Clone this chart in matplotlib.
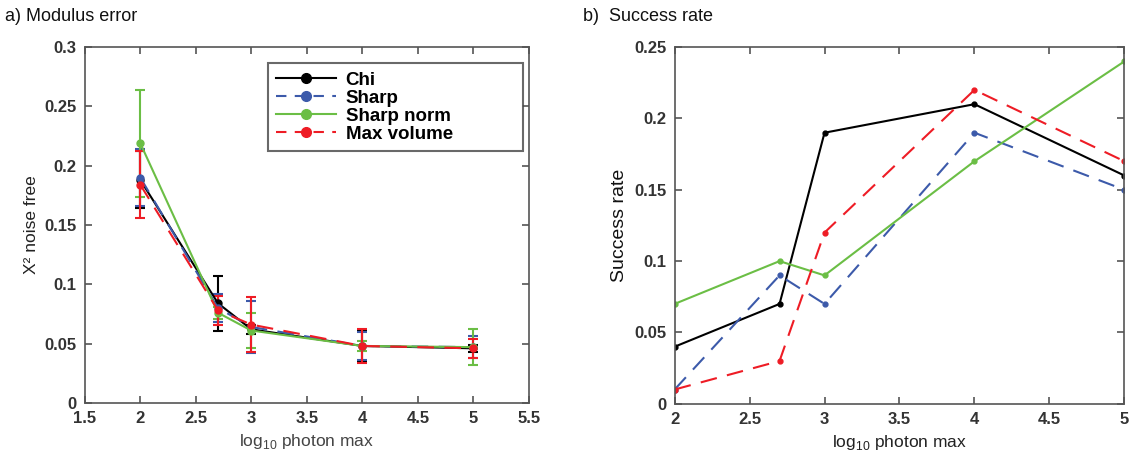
import matplotlib
matplotlib.use('Agg')
import matplotlib.pyplot as plt
from matplotlib.lines import Line2D
import numpy as np

# x positions (log10 photon max)
x_vals = [2, 2.7, 3, 4, 5]
names = ['Chi', 'Sharp', 'Sharp norm', 'Max volume']

# a) modulus error, mean and error half-widths
chi_err = [0.188, 0.084, 0.062, 0.048, 0.046]
chi_err_sd = [0.024, 0.023, 0.004, 0.013, 0.003]
sharp_err = [0.190, 0.080, 0.064, 0.048, 0.047]
sharp_err_sd = [0.024, 0.012, 0.022, 0.012, 0.009]
norm_err = [0.219, 0.076, 0.061, 0.048, 0.047]
norm_err_sd = [0.045, 0.005, 0.015, 0.004, 0.015]
maxv_err = [0.184, 0.078, 0.066, 0.048, 0.046]
maxv_err_sd = [0.028, 0.012, 0.023, 0.014, 0.008]

# b) success rate
chi_rate = [0.04, 0.07, 0.19, 0.21, 0.16]
sharp_rate = [0.01, 0.09, 0.07, 0.19, 0.15]
norm_rate = [0.07, 0.10, 0.09, 0.17, 0.24]
maxv_rate = [0.01, 0.03, 0.12, 0.22, 0.17]

colors = ['#000000', '#3C5AAA', '#6BBE45', '#EE1C25']
dash = (0, (8, 5))
styles = ['-', dash, '-', dash]

plt.rcParams['font.family'] = ['Liberation Sans', 'DejaVu Sans']
spine_col = '#555555'
tick_col = '#333333'

fig = plt.figure(figsize=(11.3, 4.62), dpi=100)
ax1 = fig.add_axes([0.075, 0.128, 0.393, 0.770])
ax2 = fig.add_axes([0.597, 0.126, 0.398, 0.772])

means = [chi_err, sharp_err, norm_err, maxv_err]
sds = [chi_err_sd, sharp_err_sd, norm_err_sd, maxv_err_sd]
for i in range(4):
    ax1.errorbar(x_vals, means[i], yerr=sds[i], color=colors[i], linestyle=styles[i],
                 linewidth=1.5, marker='o', markersize=5, capsize=3.5, capthick=1.5,
                 elinewidth=1.5)

ax1.set_xlim(1.5, 5.5)
ax1.set_ylim(0, 0.3)
ax1.set_xticks(np.arange(1.5, 5.51, 0.5))
ax1.set_xticklabels(['1.5', '2', '2.5', '3', '3.5', '4', '4.5', '5', '5.5'])
ax1.set_yticks(np.arange(0, 0.301, 0.05))
ax1.set_yticklabels(['0', '0.05', '0.1', '0.15', '0.2', '0.25', '0.3'])
ax1.set_xlabel(r'log$_{\mathregular{10}}$ photon max', fontsize=12.5, color='#444444')
ax1.set_ylabel('Χ² noise free', fontsize=12.5, color='#222222')

# legend: wide MATLAB-style box, entries left aligned
leg_styles = ['-', (0, (5, 4)), '-', (0, (5, 4))]
handles = [Line2D([0], [0], color=colors[i], linestyle=leg_styles[i], linewidth=1.5,
                  marker='o', markersize=7) for i in range(4)]
leg = ax1.legend(handles, names, loc='upper left', bbox_to_anchor=(0.412, 0.705, 0.575, 0.25),
                 mode='expand', borderaxespad=0, fancybox=False, edgecolor='#444444',
                 prop={'weight': 'bold', 'size': 13.5}, handlelength=3.2,
                 handletextpad=0.5, labelspacing=0.05, borderpad=0.45)
leg.get_frame().set_linewidth(1.5)

rates = [chi_rate, sharp_rate, norm_rate, maxv_rate]
for i in range(4):
    ax2.plot(x_vals, rates[i], color=colors[i], linestyle=styles[i], linewidth=1.5,
             marker='o', markersize=3.5)

ax2.set_xlim(2, 5)
ax2.set_ylim(0, 0.25)
ax2.set_xticks(np.arange(2, 5.01, 0.5))
ax2.set_xticklabels(['2', '2.5', '3', '3.5', '4', '4.5', '5'])
ax2.set_yticks(np.arange(0, 0.251, 0.05))
ax2.set_yticklabels(['0', '0.05', '0.1', '0.15', '0.2', '0.25'])
ax2.set_xlabel(r'log$_{\mathregular{10}}$ photon max', fontsize=12.5, color='#222222')
ax2.set_ylabel('Success rate', fontsize=14, color='#111111')

for ax in (ax1, ax2):
    for s in ax.spines.values():
        s.set_color(spine_col)
        s.set_linewidth(1.2)
    ax.tick_params(direction='in', top=True, right=True, length=5, width=1.2,
                   color=spine_col, labelcolor=tick_col, labelsize=12, pad=6)
    for lab in ax.get_xticklabels() + ax.get_yticklabels():
        lab.set_fontweight('bold')

fig.text(0.004, 0.955, 'a) Modulus error', fontsize=13, color='#111111')
fig.text(0.516, 0.955, 'b)  Success rate', fontsize=13, color='#111111')

fig.savefig('out.png', dpi=100)
